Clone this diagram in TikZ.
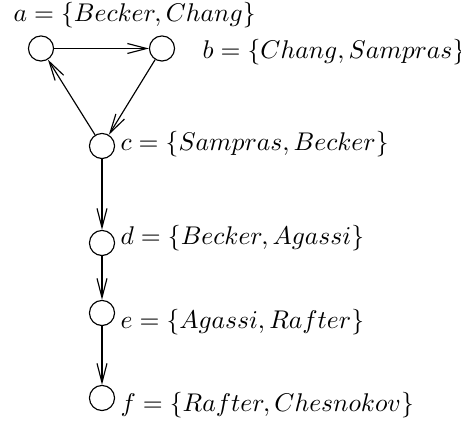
\documentclass[tikz,border=0pt]{standalone}
\usetikzlibrary{arrows.meta}
\begin{document}
\begin{tikzpicture}[x=0.390625pt,y=-0.390625pt,
  vtx/.style={draw,circle,line width=0.45pt,minimum size=9.8pt,inner sep=0pt},
  lbl/.style={anchor=west,inner sep=0pt},
  edge/.style={line width=0.45pt,-{Straight Barb[length=7.5pt,width=3.9pt,line width=0.45pt]}}]
\useasboundingbox (0,0) rectangle (461,427);
\node[vtx] (a) at (41,48.5) {};
\node[vtx] (b) at (162,48.5) {};
\node[vtx] (c) at (102,146) {};
\node[vtx] (d) at (102,243) {};
\node[vtx] (e) at (102,313) {};
\node[vtx] (f) at (102,398) {};
\node[lbl] (la) at (13,15) {$a=\{Becker,Chang\}$};
\node[lbl] (lb) at (202,52) {$b=\{Chang,Sampras\}$};
\node[lbl] (lc) at (120,144) {$c=\{Sampras,Becker\}$};
\node[lbl] (ld) at (120,238) {$d=\{Becker,Agassi\}$};
\node[lbl] (le) at (120,322) {$e=\{Agassi,Rafter\}$};
\node[lbl] (lf) at (120,405) {$f=\{Rafter,Chesnokov\}$};
\draw[edge] (a) -- (b);
\draw[edge] (b) -- (c);
\draw[edge] (c) -- (a);
\draw[edge] (c) -- (d);
\draw[edge] (d) -- (e);
\draw[edge] (e) -- (f);
\end{tikzpicture}
\end{document}
